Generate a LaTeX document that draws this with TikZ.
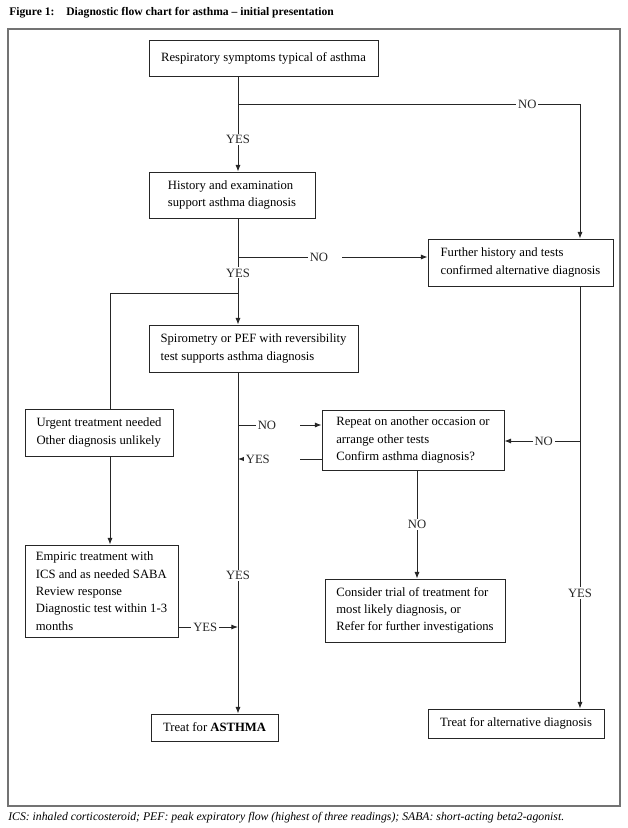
\documentclass[tikz,border=0pt]{standalone}
\usepackage{fontspec}
\setmainfont{Liberation Serif}
\usepackage{tikz}
\usetikzlibrary{calc,positioning,arrows.meta}
\newcommand{\fs}{\fontsize{9.5}{13}\selectfont}
\tikzset{
  box/.style={rectangle,draw=black!85,line width=0.6pt,inner sep=0pt,align=left,font=\fs},
  ln/.style={line width=0.65pt,black!85},
  arr/.style={-{Latex[length=5pt,width=3.8pt]},line width=0.65pt,black!85},
  lbl/.style={fill=white,inner xsep=1.5pt,inner ysep=1pt,font=\fs},
  lblg/.style={lbl,text width=#1,align=left},
  frame/.style={draw=black!55,line width=0.8pt},
}

\begin{document}
\begin{tikzpicture}[x=0.75pt,y=-0.75pt]
  \useasboundingbox (0,0) rectangle (628,828);
  % title + frame
  \node[anchor=west,inner sep=0pt,font=\bfseries\fontsize{8.7}{10}\selectfont] (ttl) at (9,13)
    {Figure 1:\hspace{6pt} Diagnostic flow chart for asthma -- initial presentation};
  \draw[frame] (8,29) rectangle (620,806);
  % boxes
  \node[box,minimum width=171.75pt,minimum height=27pt] (sym) at (263.5,58) {Respiratory symptoms typical of asthma};
  \node[box,minimum width=124.5pt,minimum height=34.5pt] (hist) at (232,195) {History and examination\\support asthma diagnosis};
  \node[box,minimum width=138.75pt,minimum height=35.25pt] (alt) at (520.5,262.5) {Further history and tests\\confirmed alternative diagnosis};
  \node[box,minimum width=156.75pt,minimum height=35.25pt] (spiro) at (253.5,348.5) {Spirometry or PEF with reversibility\\test supports asthma diagnosis};
  \node[box,minimum width=111pt,minimum height=35.25pt] (urg) at (99,432.5) {Urgent treatment needed\\Other diagnosis unlikely};
  \node[box,minimum width=136.5pt,minimum height=45pt] (rep) at (413,440) {Repeat on another occasion or\\arrange other tests\\Confirm asthma diagnosis?};
  \node[box,minimum width=114.75pt,minimum height=69pt] (emp) at (101.5,591) {Empiric treatment with\\ICS and as needed SABA\\Review response\\Diagnostic test within 1-3\\months};
  \node[box,minimum width=135pt,minimum height=47.25pt] (tri) at (415,610.5) {Consider trial of treatment for\\most likely diagnosis, or\\Refer for further investigations};
  \node[box,minimum width=95.25pt,minimum height=20.25pt] (tasm) at (214.5,727.5) {Treat for \textbf{ASTHMA}};
  \node[box,minimum width=132pt,minimum height=21.75pt] (talt) at (516,723.5) {Treat for alternative diagnosis};
  % junctions
  \coordinate (j1) at (238,104); \coordinate (j2) at (238,257); \coordinate (j3) at (238,293);
  \coordinate (j4) at (238,425); \coordinate (j5) at (238,459); \coordinate (j6) at (238,627);
  \coordinate (k1) at (580,104); \coordinate (k2) at (580,441);
  \coordinate (l1) at (110,293); \coordinate (r1) at (417,500);
  % main spine
  \draw[ln] (sym.south -| j1) -- (j1);
  \draw[arr] (j1) -- node[lbl,pos=0.53]{YES} (hist.north -| j1);
  \draw[arr] (j1) -- node[lbl,pos=0.846]{NO} (k1) -- (alt.north -| k1);
  \draw[ln] (hist.south -| j1) -- (j2);
  \draw[arr] (j2) -- node[lblg=22.5pt,pos=0.458]{NO} (j2 -| alt.west);
  \draw[arr] (j2) -- node[lbl,pos=0.235]{YES} (spiro.north -| j2);
  \draw[ln] (j3) -- (l1) -- (urg.north -| l1);
  \draw[arr] (urg.south -| l1) -- (emp.north -| l1);
  \draw[arr] (spiro.south -| j1) -- node[lbl,pos=0.596]{YES} (tasm.north -| j1);
  % repeat box
  \draw[arr] (j4) -- node[lblg=30pt,pos=0.476]{NO} (j4 -| rep.west);
  \draw[arr] (j5 -| rep.west) -- node[lblg=39pt,pos=0.595]{YES} (j5);
  \draw[arr] (rep.south -| r1) -- node[lbl,pos=0.5]{NO} (tri.north -| r1);
  \draw[arr] (emp.east |- j6) -- node[lbl,pos=0.45]{YES} (j6);
  % alternative side
  \draw[arr] (alt.south -| k1) -- node[lbl,pos=0.726]{YES} (talt.north -| k1);
  \draw[arr] (k2) -- node[lbl,pos=0.48]{NO} (k2 -| rep.east);
  % footnote
  \node[anchor=west,inner sep=0pt,font=\itshape\fontsize{8.8}{10}\selectfont] (fn) at (8,818)
    {ICS: inhaled corticosteroid; PEF: peak expiratory flow (highest of three readings); SABA: short-acting beta2-agonist.};
\end{tikzpicture}
\end{document}
